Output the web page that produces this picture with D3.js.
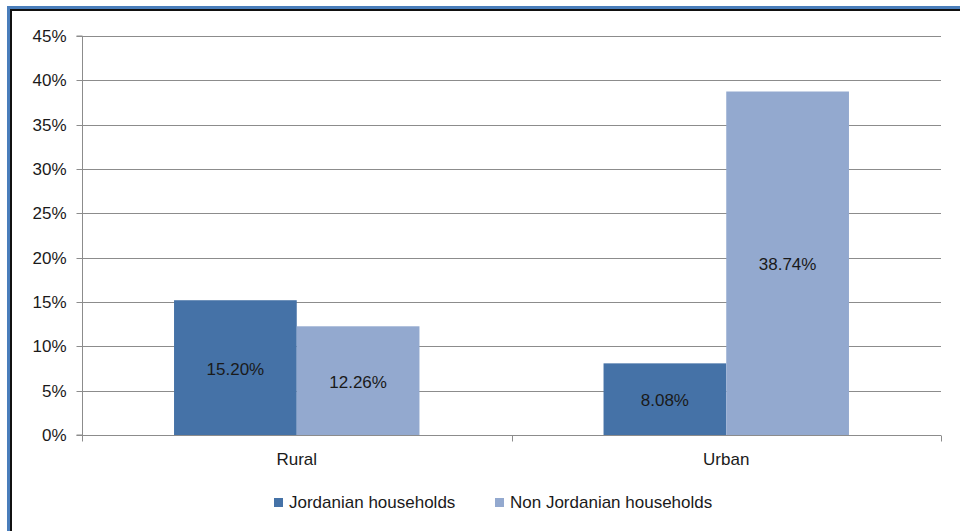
<!DOCTYPE html>
<html>
<head>
<meta charset="utf-8">
<script src="https://cdn.jsdelivr.net/npm/d3@7"></script>
<style>
  html, body { margin: 0; padding: 0; background: #fff; }
  svg { display: block; font-family: "Liberation Sans", Arial, sans-serif; }
</style>
</head>
<body>
<svg id="chart" width="960" height="531"></svg>
<script>
// Household shares by area of residence
const categories = ["Rural", "Urban"];
const seriesNames = ["Jordanian households", "Non Jordanian households"];
const jordanian = [15.20, 8.08];
const nonJordanian = [12.26, 38.74];
const yTicks = [0, 5, 10, 15, 20, 25, 30, 35, 40, 45];

const colors = ["#4572a7", "#93a9cf"];
const seriesValues = [jordanian, nonJordanian];
const FS = 17;

const svg = d3.select("#chart");
const W = 960, H = 531;
const margin = { left: 82, right: 19, top: 36, bottom: 96 };

// Frame around the chart (blue outer stroke, black inner stroke)
svg.append("rect").attr("x", 7).attr("y", 6).attr("width", W).attr("height", 3).attr("fill", "#4a7ebb");
svg.append("rect").attr("x", 7).attr("y", 6).attr("width", 3).attr("height", H).attr("fill", "#4a7ebb");
svg.append("rect").attr("x", 10).attr("y", 9).attr("width", W).attr("height", 2).attr("fill", "#111");
svg.append("rect").attr("x", 10).attr("y", 9).attr("width", 2).attr("height", H).attr("fill", "#111");

const x0 = d3.scaleBand()
  .domain(categories)
  .range([margin.left, W - margin.right])
  .paddingInner(0)
  .paddingOuter(0);

// Excel-style gap width of 150%: each bar = band / 3.5
const barW = x0.bandwidth() / 3.5;
const gap = barW * 0.75;

const y = d3.scaleLinear()
  .domain([0, 45])
  .range([H - margin.bottom, margin.top]);

// Gridlines
svg.append("g")
  .selectAll("line")
  .data(yTicks.filter(d => d > 0))
  .join("line")
  .attr("x1", margin.left)
  .attr("x2", W - margin.right)
  .attr("y1", d => Math.round(y(d)) + 0.5)
  .attr("y2", d => Math.round(y(d)) + 0.5)
  .attr("stroke", "#8c8c8c")
  .attr("stroke-width", 1);

// Bars
const groups = svg.append("g")
  .selectAll("g")
  .data(categories)
  .join("g");

seriesValues.forEach((vals, si) => {
  groups.append("rect")
    .attr("x", (c, i) => x0(c) + gap + si * barW)
    .attr("y", (c, i) => y(vals[i]))
    .attr("width", barW)
    .attr("height", (c, i) => y(0) - y(vals[i]))
    .attr("fill", colors[si]);
});

// Value labels, centred inside each bar
seriesValues.forEach((vals, si) => {
  groups.append("text")
    .attr("x", (c, i) => x0(c) + gap + si * barW + barW / 2)
    .attr("y", (c, i) => (y(vals[i]) + y(0)) / 2 + 1)
    .attr("dy", "0.35em")
    .attr("text-anchor", "middle")
    .attr("font-size", FS)
    .attr("fill", "#1a1a1a")
    .text((c, i) => vals[i].toFixed(2) + "%");
});

// Y axis
const yAxis = d3.axisLeft(y)
  .tickValues(yTicks)
  .tickSize(6)
  .tickPadding(10)
  .tickFormat(d => d + "%");
const gy = svg.append("g")
  .attr("transform", `translate(${margin.left + 0.5},0)`)
  .call(yAxis);
gy.select(".domain").attr("stroke", "#8c8c8c").attr("d", `M-6,${y(45)}H0V${y(0)}H-6`);
gy.selectAll(".tick line").attr("stroke", "#8c8c8c");
gy.selectAll(".tick").attr("transform", d => `translate(0,${Math.round(y(d)) + 0.5})`);
gy.selectAll(".tick text").attr("font-size", FS).attr("fill", "#1a1a1a").attr("font-family", "Liberation Sans, Arial, sans-serif");

// X axis
const gx = svg.append("g")
  .attr("transform", `translate(0,${Math.round(y(0)) + 0.5})`);
gx.append("line")
  .attr("x1", margin.left).attr("x2", W - margin.right)
  .attr("stroke", "#8c8c8c");
const boundaries = [x0.range()[0]].concat(categories.map(c => x0(c) + x0.bandwidth()));
gx.selectAll("line.tk")
  .data(boundaries)
  .join("line")
  .attr("class", "tk")
  .attr("x1", d => Math.round(d) + 0.5).attr("x2", d => Math.round(d) + 0.5)
  .attr("y1", 0).attr("y2", 6)
  .attr("stroke", "#8c8c8c");
gx.selectAll("text")
  .data(categories)
  .join("text")
  .attr("x", c => x0(c) + x0.bandwidth() / 2)
  .attr("y", 24)
  .attr("dy", "0.35em")
  .attr("text-anchor", "middle")
  .attr("font-size", FS)
  .attr("fill", "#1a1a1a")
  .text(c => c);

// Legend
const legendX = [274, 495];
const legend = svg.append("g")
  .selectAll("g")
  .data(seriesNames)
  .join("g")
  .attr("transform", (d, i) => `translate(${legendX[i]},502)`);
legend.append("rect")
  .attr("x", 0).attr("y", -4)
  .attr("width", 9).attr("height", 9)
  .attr("fill", (d, i) => colors[i]);
legend.append("text")
  .attr("x", 15)
  .attr("y", 0)
  .attr("dy", "0.35em")
  .attr("font-size", FS)
  .attr("fill", "#1a1a1a")
  .text(d => d);
</script>
</body>
</html>
